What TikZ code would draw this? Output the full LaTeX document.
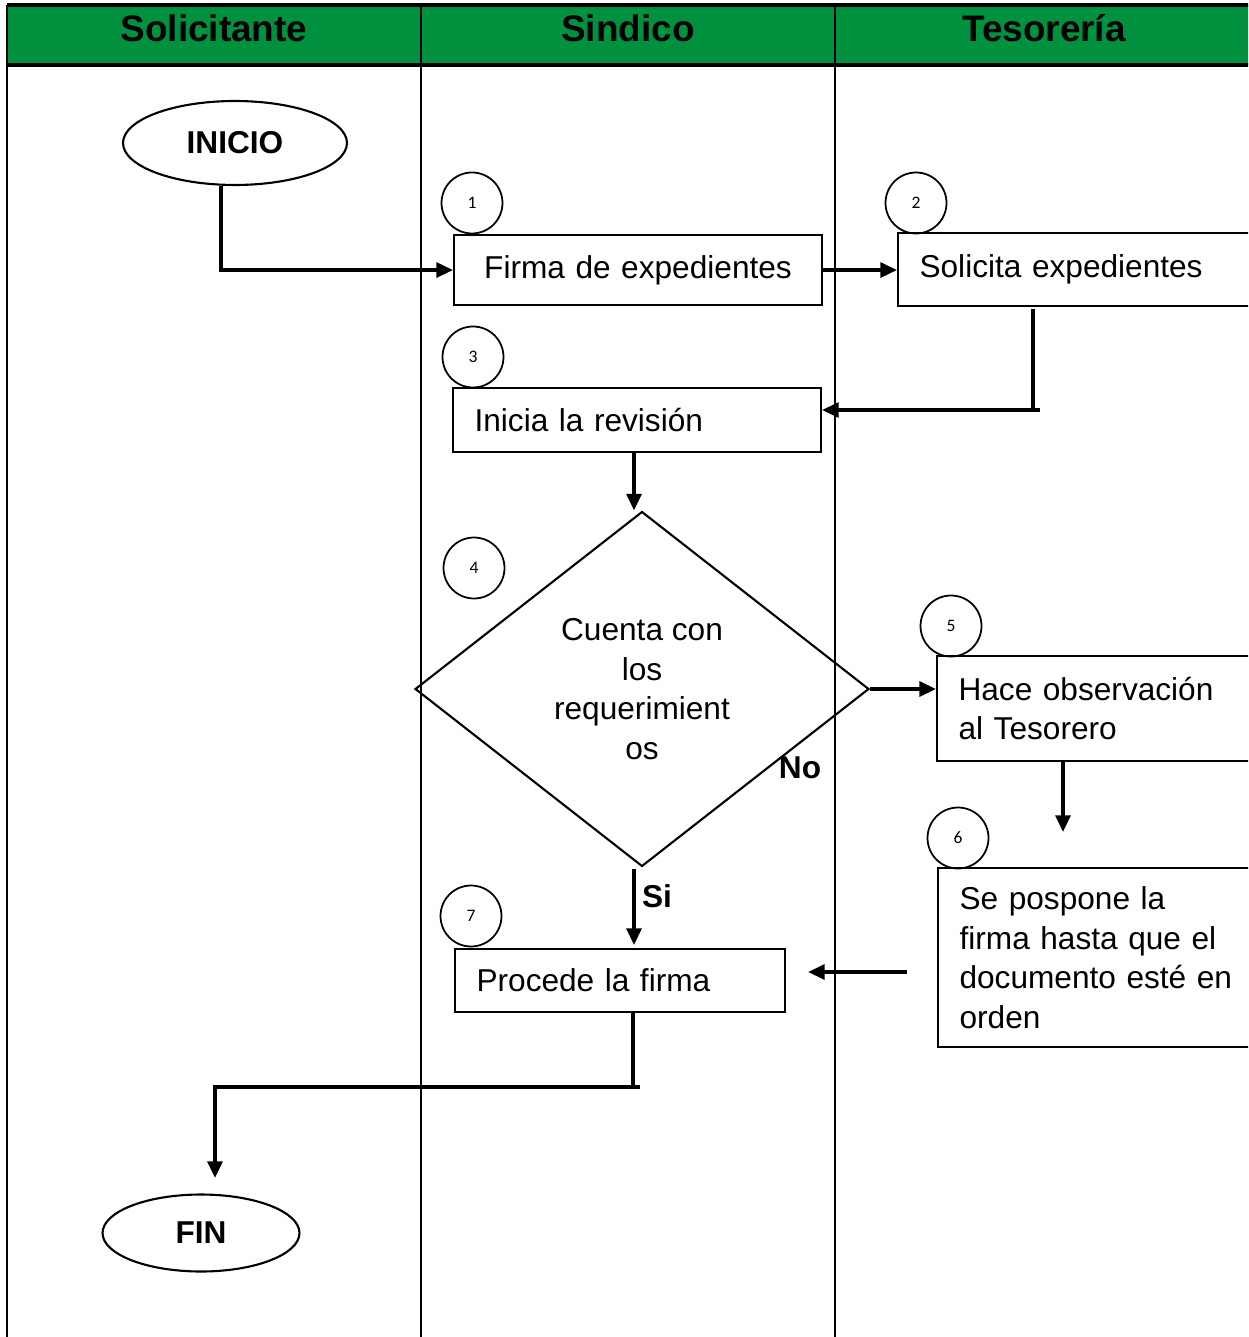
\documentclass[tikz,border=0pt]{standalone}
\usepackage{fontspec}
\setmainfont{Liberation Sans}
\newfontfamily\numfont{Carlito}
\usetikzlibrary{arrows.meta,shapes.geometric,calc,positioning}
\definecolor{verdeCab}{RGB}{0,145,62}

\tikzset{
  carril/.style={line width=1.1pt},
  borde/.style={line width=2pt},
  titulo/.style={font=\bfseries\fontsize{21}{25}\selectfont},
  paso/.style={draw, line width=1.2pt, anchor=north west, inner xsep=0.43cm, align=left,
    font=\fontsize{18}{22.5}\selectfont},
  num/.style={draw, circle, line width=1pt, minimum size=1.22cm, inner sep=0pt,
    font=\numfont\fontsize{10}{11}\selectfont},
  term/.style={draw, ellipse, line width=1.2pt, inner sep=0pt, font=\bfseries\fontsize{18}{22}\selectfont},
  decision/.style={draw, diamond, line width=1.2pt, inner sep=0pt, align=center,
    font=\fontsize{18}{22.5}\selectfont},
  etiq/.style={font=\bfseries\fontsize{18}{22}\selectfont},
  linea/.style={line width=1.9pt},
  flecha/.style={line width=1.9pt, -{Triangle[length=9.5pt,width=8.5pt]}},
}

\begin{document}
\begin{tikzpicture}[x=0.02cm,y=-0.02cm]
    \useasboundingbox (0,0) rectangle (1248,1337);
    \clip (0,0) rectangle (1248,1337);

    % carriles
    \fill[verdeCab] (7,5) rectangle (1260,65);
    \draw[borde] (7,5) -- (1260,5);
    \draw[borde] (7,65) -- (1260,65);
    \foreach \x in {7,421,835}{
        \draw[carril] (\x,5) -- (\x,1345);
    }
    \node[titulo] (tSol) at (214,28) {Solicitante};
    \node[titulo] (tSin) at (628,28) {Sindico};
    \node[titulo] (tTes) at (1044,28) {Tesorería};

    % pasos
    \node[term, minimum width=4.48cm, minimum height=1.68cm] (inicio) at (235,143) {INICIO};
    \node[paso, align=center, text width=6.5cm, minimum height=1.4cm] (firma) at (453,234) {Firma de expedientes};
    \node[paso, text width=6.4cm, minimum height=1.46cm] (solicita) at (897,232) {Solicita expedientes};
    \node[paso, text width=6.5cm, minimum height=1.28cm] (revision) at (452,387) {Inicia la revisión};
    \node[decision, minimum width=9.08cm, minimum height=7.1cm] (cuenta) at (642,689)
        {Cuenta con\\los\\requerimient\\os};
    \node[paso, text width=5.96cm, minimum height=2.1cm] (observa) at (936,655)
        {Hace observación\\al Tesorero};
    \node[paso, text width=5.96cm, minimum height=3.58cm] (pospone) at (937,867)
        {Se pospone la\\firma hasta que el\\documento esté en\\orden};
    \node[paso, text width=5.74cm, minimum height=1.26cm] (procede) at (454,948) {Procede la firma};
    \node[term, minimum width=3.94cm, minimum height=1.54cm] (fin) at (201,1233) {FIN};

    % numeros
    \node[num] (n1) at (472,203) {1};
    \node[num] (n2) at (916,203) {2};
    \node[num] (n3) at (473,357) {3};
    \node[num] (n4) at (474,568) {4};
    \node[num] (n5) at (951,626) {5};
    \node[num] (n6) at (958,838) {6};
    \node[num] (n7) at (471,916) {7};

    % conectores
    \coordinate (a0) at ($(inicio.south)+(-14,0)$);
    \draw[flecha] (a0) |- (firma.west);
    \draw[flecha] (firma.east) -- (firma.east -| solicita.west);
    \coordinate (r1) at (1033,309);
    \coordinate (r2) at (1033,410);
    \draw[linea] (r1) -- (r2);
    \draw[flecha] ($(r2)+(7,0)$) -- (r2 -| revision.east);
    \draw[flecha] ($(revision.south)+(-3,0)$) -- ($(revision.south |- cuenta.north)+(-3,0)$);
    \draw[flecha] (cuenta.east) -- (cuenta.east -| observa.west);
    \coordinate (d1) at (1063,832);
    \draw[flecha] (observa.south -| d1) -- (d1);
    \coordinate (p1) at (907,972);
    \coordinate (p2) at (808,972);
    \draw[flecha] (p1) -- (p2);
    \coordinate (s1) at (634,869);
    \draw[flecha] (s1) -- ($(s1 |- procede.north)+(0,-3)$);
    \coordinate (f1) at (633,1087);
    \coordinate (f2) at (215,1178);
    \draw[linea] (f1 |- procede.south) -- (f1);
    \draw[flecha] ($(f1)+(7,0)$) -| (f2);

    % etiquetas
    \node[etiq] (no) at (800,768) {No};
    \node[etiq] (si) at (657,896) {Si};
\end{tikzpicture}
\end{document}
